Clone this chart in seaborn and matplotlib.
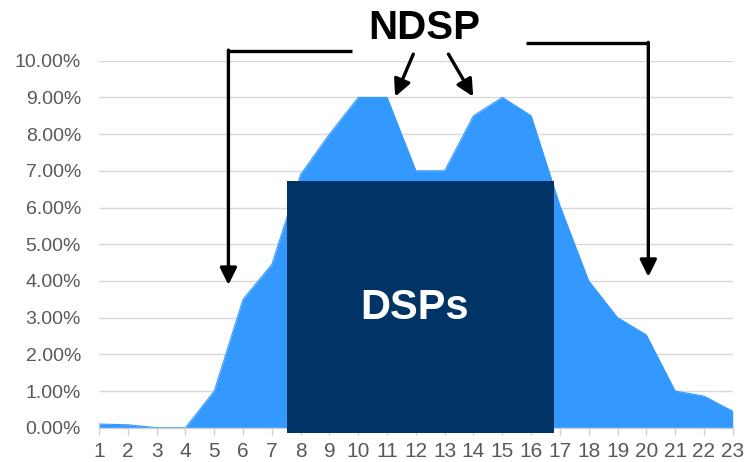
import matplotlib
matplotlib.use("Agg")
import matplotlib.pyplot as plt
from matplotlib.ticker import FuncFormatter
import seaborn as sns
import pandas as pd

# ---- data ----
hours = list(range(1, 24))
share_pct = [0.1, 0.08, 0.0, 0.0, 1.0, 3.5, 4.45, 6.9, 8.0, 9.0, 9.0, 7.0, 7.0,
             8.5, 9.0, 8.5, 6.05, 4.0, 3.0, 2.53, 1.0, 0.86, 0.45]
y_ticks = [0, 1, 2, 3, 4, 5, 6, 7, 8, 9, 10]

dsp_label = "DSPs"
dsp_start, dsp_end = 7.54, 16.8
dsp_level = 6.73
ndsp_label = "NDSP"

AREA = "#3399FF"
NAVY = "#003366"
GREY = "#595959"

sns.set_theme(style="white")
plt.rcParams['font.family'] = ['Liberation Sans', 'DejaVu Sans']

fig = plt.figure(figsize=(7.45, 4.62), dpi=100)
ax = fig.add_axes([0.133, 0.0742, 0.8505, 0.7944])

df = pd.DataFrame({"hour": hours, "share": share_pct})
sns.lineplot(data=df, x="hour", y="share", ax=ax, color=AREA, linewidth=0.8, zorder=2)
ax.fill_between(df["hour"], 0, df["share"], color=AREA, linewidth=0, zorder=2)

# DSP block
ax.bar((dsp_start + dsp_end) / 2, dsp_level + 0.15, width=dsp_end - dsp_start,
       bottom=-0.15, color=NAVY, edgecolor=NAVY, linewidth=0, zorder=3, clip_on=False)
ax.text((dsp_start + dsp_end) / 2 - 0.2, 3.26, dsp_label, color="white", fontsize=30,
        fontweight="bold", ha="center", va="center", zorder=4)

ax.set_xlim(1, 23)
ax.set_ylim(0, 10)
ax.set_xticks(hours)
ax.set_yticks(y_ticks)
ax.yaxis.set_major_formatter(FuncFormatter(lambda v, p: f"{v:.2f}%"))
ax.set_xlabel("")
ax.set_ylabel("")
ax.grid(axis="y", color="#d9d9d9", linewidth=1.0, zorder=0)
ax.set_axisbelow(True)
for s in ["left", "right", "top"]:
    ax.spines[s].set_visible(False)
ax.spines["bottom"].set_color("#d0d0d0")
ax.spines["bottom"].set_linewidth(1.0)
ax.tick_params(axis="y", length=0, pad=13, labelsize=14, labelcolor=GREY)
ax.tick_params(axis="x", length=5, width=1, color="#d0d0d0", direction="out",
               pad=5, labelsize=15, labelcolor=GREY, bottom=True)

# NDSP annotations
ax.text(12.28, 10.88, ndsp_label, fontsize=29, fontweight="bold", color="black",
        ha="center", va="center", clip_on=False)
lw = 2.4
arrow = dict(arrowstyle="-|>,head_length=0.85,head_width=0.42", color="black", lw=lw,
             shrinkA=0, shrinkB=0)
# left bracket
ax.plot([9.77, 5.49], [10.26, 10.26], color="black", lw=lw, clip_on=False,
        solid_capstyle="butt")
ax.annotate("", xy=(5.49, 3.89), xytext=(5.49, 10.26 + 0.03), arrowprops=arrow,
            annotation_clip=False)
# right bracket
ax.plot([15.83, 20.07], [10.47, 10.47], color="black", lw=lw, clip_on=False,
        solid_capstyle="butt")
ax.annotate("", xy=(20.07, 4.11), xytext=(20.07, 10.47 + 0.03), arrowprops=arrow,
            annotation_clip=False)
# middle arrows
ax.annotate("", xy=(11.28, 9.02), xytext=(11.91, 10.18), arrowprops=arrow,
            annotation_clip=False)
ax.annotate("", xy=(13.99, 9.02), xytext=(13.13, 10.18), arrowprops=arrow,
            annotation_clip=False)

fig.savefig("out.png", dpi=100)
